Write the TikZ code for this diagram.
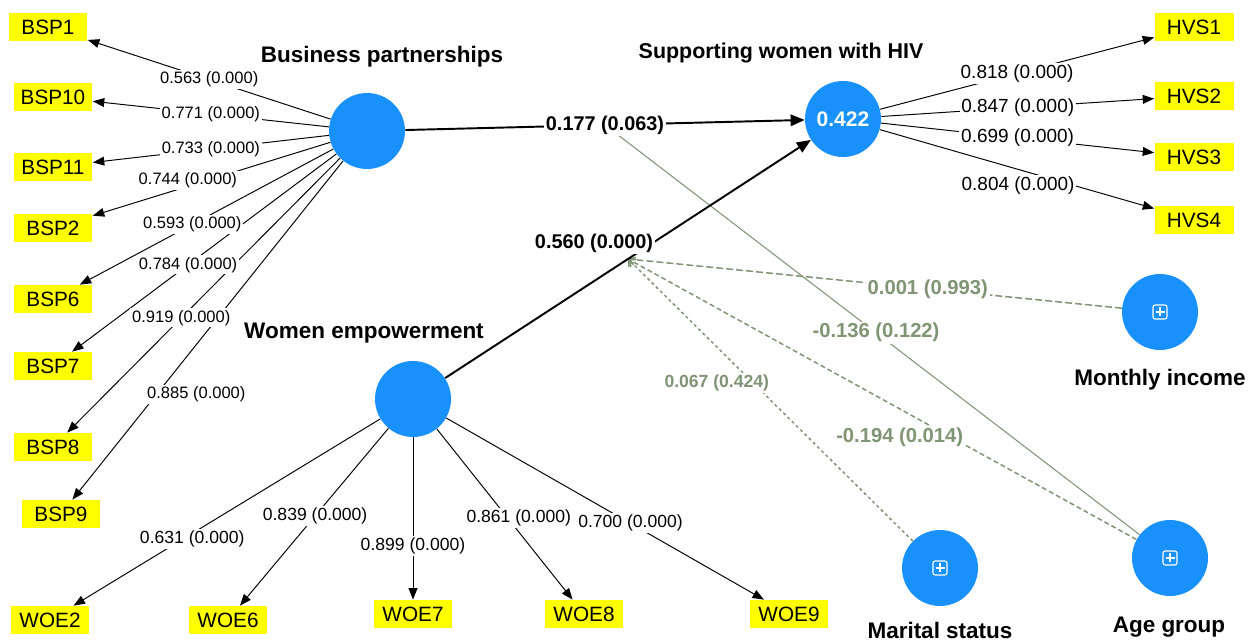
\documentclass[tikz,border=0pt]{standalone}
\usepackage{fontspec}
\setmainfont{Liberation Sans}
\usetikzlibrary{calc, shapes, arrows.meta}
\definecolor{lvblue}{RGB}{24,145,252}
\definecolor{indyellow}{RGB}{255,255,0}
\definecolor{modgray}{RGB}{128,148,118}
\tikzstyle{construct} = [fill=lvblue, circle, minimum size=1.52cm, inner sep=0pt]
\tikzstyle{indicator} = [fill=indyellow, rectangle, 
    minimum width=1.58cm, minimum height=0.56cm, inner sep=0pt, font=\fontsize{11.8}{13}\selectfont]
\tikzstyle{lvtitle} = [anchor=base, inner sep=1pt, font=\fontsize{12.8}{14}\selectfont\bfseries]
\tikzstyle{loading} = [draw, line width=0.55pt, -{Triangle[length=6.5pt, width=5pt]}]
\tikzstyle{structural} = [draw, line width=1.1pt, -{Triangle[length=8pt, width=6.5pt]}]
\tikzstyle{moderator} = [draw=modgray, line width=0.85pt, -{Straight Barb[length=3pt, width=6pt]}]
\tikzstyle{lbl} = [fill=white, inner sep=1pt, font=\fontsize{9.4}{11}\selectfont]
\tikzstyle{coef} = [fill=white, inner sep=1pt, font=\fontsize{11.3}{13}\selectfont\bfseries]
\tikzstyle{modcoef} = [coef, text=modgray, font=\fontsize{11.5}{13}\selectfont\bfseries]
\newcommand{\plusbox}[1]{%
    \draw[white, line width=0.6pt, rounded corners=1.2pt] ($(#1)+(-7,-7)$) rectangle ($(#1)+(7,7)$);
    \draw[white, line width=0.6pt] ($(#1)+(-4.5,0)$) -- ($(#1)+(4.5,0)$) ($(#1)+(0,-4.5)$) -- ($(#1)+(0,4.5)$);}

\begin{document}
\begin{tikzpicture}[x=0.02cm, y=-0.02cm]
            \useasboundingbox (0,0) rectangle (1255,644);

            % latent variables
            \node[construct, name=bsp] at (367,131) {};
            \node[construct, name=hiv, text=white, font=\fontsize{12}{14}\selectfont\bfseries] at (843,119) {0.422};
            \node[construct, name=we] at (413,399) {};
            \node[construct, name=mi] at (1160,312) {};
            \node[construct, name=ms] at (940,568) {};
            \node[construct, name=ag] at (1170,558) {};
            \plusbox{mi}
            \plusbox{ms}
            \plusbox{ag}

            \node[lvtitle, name=bsptitle] at (382,63) {Business partnerships};
            \node[lvtitle, name=hivtitle, font=\fontsize{12.2}{14}\selectfont\bfseries] at (781,59) {Supporting women with HIV};
            \node[lvtitle, name=wetitle] at (364,339) {Women empowerment};
            \node[lvtitle, name=mititle] at (1160,386) {Monthly income};
            \node[lvtitle, name=mstitle] at (940,639) {Marital status};
            \node[lvtitle, name=agtitle] at (1169,633) {Age group};

            % indicators
            \node[indicator, name=bsp1] at (48,27) {BSP1};
            \node[indicator, name=bsp10] at (53,97) {BSP10};
            \node[indicator, name=bsp11] at (53,167) {BSP11};
            \node[indicator, name=bsp2] at (53,228) {BSP2};
            \node[indicator, name=bsp6] at (53,299) {BSP6};
            \node[indicator, name=bsp7] at (53,366) {BSP7};
            \node[indicator, name=bsp8] at (53,447) {BSP8};
            \node[indicator, name=bsp9] at (61,514) {BSP9};
            \node[indicator, name=hvs1] at (1194,27) {HVS1};
            \node[indicator, name=hvs2] at (1194,96) {HVS2};
            \node[indicator, name=hvs3] at (1194,157) {HVS3};
            \node[indicator, name=hvs4] at (1194,220) {HVS4};
            \node[indicator, name=woe2] at (50,620) {WOE2};
            \node[indicator, name=woe6] at (228,620) {WOE6};
            \node[indicator, name=woe7] at (413,614) {WOE7};
            \node[indicator, name=woe8] at (584,614) {WOE8};
            \node[indicator, name=woe9] at (789,614) {WOE9};

            \coordinate (bspmid) at ($(bsp)!0.5!(hiv)$);
            \coordinate (wemid) at ($(we)!0.5!(hiv)$);

            % outer loadings
            \draw[loading] (bsp) -- (bsp1);
            \draw[loading] (bsp) -- (bsp10);
            \draw[loading] (bsp) -- (bsp11);
            \draw[loading] (bsp) -- (bsp2);
            \draw[loading] (bsp) -- (bsp6);
            \draw[loading] (bsp) -- (bsp7);
            \draw[loading] (bsp) -- (bsp8);
            \draw[loading] (bsp) -- (bsp9);
            \draw[loading] (hiv) -- (hvs1);
            \draw[loading] (hiv) -- (hvs2);
            \draw[loading] (hiv) -- (hvs3);
            \draw[loading] (hiv) -- (hvs4);
            \draw[loading] (we) -- (woe2);
            \draw[loading] (we) -- (woe6);
            \draw[loading] (we) -- (woe7);
            \draw[loading] (we) -- (woe8);
            \draw[loading] (we) -- (woe9);

            % moderating effects
            \draw[modgray, line width=0.6pt] (ag) -- (bspmid);
            \draw[moderator, dash pattern=on 4pt off 1.7pt] (mi) -- (wemid);
            \draw[moderator, dash pattern=on 1.7pt off 1.7pt] (ms) -- (wemid);
            \draw[moderator, dash pattern=on 2.8pt off 1.7pt] (ag) -- (wemid);

            % inner model
            \draw[structural] (bsp) -- (hiv);
            \draw[structural] (we) -- (hiv);

            % labels on top
            \path (bsp) -- node[lbl, pos=0.5] {0.563 (0.000)} (bsp1);
            \path (bsp) -- node[lbl, pos=0.5] {0.771 (0.000)} (bsp10);
            \path (bsp) -- node[lbl, pos=0.5] {0.733 (0.000)} (bsp11);
            \path (bsp) -- node[lbl, pos=0.6, yshift=0.12cm] {0.744 (0.000)} (bsp2);
            \path (bsp) -- node[lbl, pos=0.556] {0.593 (0.000)} (bsp6);
            \path (bsp) -- node[lbl, pos=0.561] {0.784 (0.000)} (bsp7);
            \path (bsp) -- node[lbl, pos=0.582] {0.919 (0.000)} (bsp8);
            \path (bsp) -- node[lbl, pos=0.69, xshift=0.8cm] {0.885 (0.000)} (bsp9);
            \path (hiv) -- node[lbl, pos=0.5, font=\fontsize{10.8}{12}\selectfont] {0.818 (0.000)} (hvs1);
            \path (hiv) -- node[lbl, pos=0.5, font=\fontsize{10.8}{12}\selectfont] {0.847 (0.000)} (hvs2);
            \path (hiv) -- node[lbl, pos=0.5, font=\fontsize{10.8}{12}\selectfont] {0.699 (0.000)} (hvs3);
            \path (hiv) -- node[lbl, pos=0.504, yshift=-0.33cm, font=\fontsize{10.8}{12}\selectfont] {0.804 (0.000)} (hvs4);
            \path (we) -- node[lbl, pos=0.613, yshift=-0.12cm, font=\fontsize{10}{12}\selectfont] {0.631 (0.000)} (woe2);
            \path (we) -- node[lbl, pos=0.494, font=\fontsize{10}{12}\selectfont] {0.839 (0.000)} (woe6);
            \path (we) -- node[lbl, pos=0.669, font=\fontsize{10}{12}\selectfont] {0.899 (0.000)} (woe7);
            \path (we) -- node[lbl, pos=0.552, xshift=0.14cm, yshift=0.1cm, font=\fontsize{10}{12}\selectfont] {0.861 (0.000)} (woe8);
            \path (we) -- node[lbl, pos=0.58, font=\fontsize{10}{12}\selectfont] {0.700 (0.000)} (woe9);

            \path (bsp) -- node[coef, pos=0.5] {0.177 (0.063)} (hiv);
            \path (we) -- node[coef, pos=0.455, xshift=-0.35cm, yshift=0.53cm] {0.560 (0.000)} (hiv);
            \path (ag) -- node[modcoef, pos=0.493] {-0.136 (0.122)} (bspmid);
            \path (mi) -- node[modcoef, pos=0.393] {0.001 (0.993)} (wemid);
            \path (ms) -- node[modcoef, pos=0.625, xshift=-0.36cm, yshift=-0.36cm, font=\fontsize{10}{12}\selectfont\bfseries] {0.067 (0.424)} (wemid);
            \path (ag) -- node[modcoef, pos=0.442, xshift=-0.24cm, yshift=-0.43cm] {-0.194 (0.014)} (wemid);
        \end{tikzpicture}
\end{document}
